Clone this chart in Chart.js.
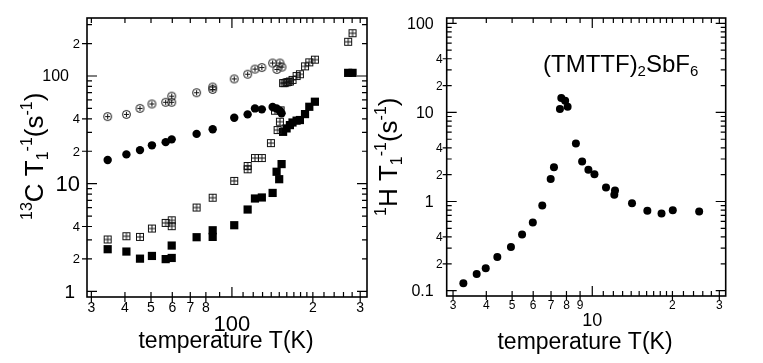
<!DOCTYPE html>
<html>
<head>
<meta charset="utf-8">
<script src="https://cdn.jsdelivr.net/npm/chart.js@4.4.1/dist/chart.umd.min.js"></script>
<style>
  html, body { margin: 0; background: #fff; }
  #wrap { position: relative; width: 763px; height: 363px; }
  #wrap canvas { position: absolute; left: 0; top: 0; }
</style>
</head>
<body>
<div id="wrap">
  <canvas id="left" width="763" height="363"></canvas>
  <canvas id="right" width="763" height="363"></canvas>
</div>
<script>
// 13C panel (temperature in K, 1/T1 in 1/s)
const plusCircleT = [34.5, 40.5, 45.5, 50.4, 56.7, 59.7, 59.7, 73.9, 84.8, 84.8, 102, 114.4, 121.8, 129.2, 141.7, 150.8, 147, 153.5];
const plusCircleR = [42, 44, 50, 55, 57, 57, 65, 70, 79, 75, 94, 104, 116, 120, 132, 132, 115, 121];

const dotT = [34.5, 40.5, 45.5, 50.4, 56.7, 59.7, 73.9, 84.8, 102, 114.4, 121.8, 129.2, 141.7, 146.6, 150.8, 153];
const dotR = [16.6, 18.7, 20.5, 22.7, 24.3, 25.8, 29, 32, 41, 44, 50, 49, 51.5, 50, 47.6, 45];

const gridSqT = [34.5, 40.5, 45.5, 50.4, 56.7, 59.7, 59.7, 73.9, 84.8, 102, 114.4, 114.4, 121.8, 129.2, 139.6, 144.6, 147.9, 150.8, 151.7, 155, 157, 159.7, 162, 164.3, 168, 174, 179, 187, 194, 203.5, 270.6, 281];
const gridSqR = [3.03, 3.25, 3.2, 3.83, 4.32, 4.57, 4.03, 6.0, 7.4, 10.6, 13.6, 14.6, 17.3, 17.3, 23.8, 47.6, 31.5, 37.6, 48, 86, 86, 87.4, 88, 89, 92, 100, 104, 123, 134, 142, 208, 250];

const squareT = [34.5, 40.5, 45.5, 50.4, 56.7, 59.7, 59.7, 73.9, 84.8, 84.8, 102, 114.4, 121.8, 129.2, 141.7, 146.6, 149.9, 153, 155, 159.7, 164.3, 168, 174, 179, 187, 194, 203.5, 270.6, 281];
const squareR = [2.46, 2.34, 2.01, 2.13, 1.99, 2.04, 2.66, 3.18, 3.69, 3.2, 4.11, 5.75, 7.28, 7.44, 8.2, 12.9, 11.0, 15.2, 30.3, 32.6, 35, 37, 38.5, 39, 44.3, 51.8, 57.7, 107, 107];

// 1H panel
const protonT = [3.28, 3.68, 3.98, 4.40, 4.95, 5.45, 5.98, 6.49, 6.98, 7.18, 7.56, 7.65, 7.91, 8.08, 8.68, 9.16, 9.67, 10.19, 11.26, 12.17, 12.1, 14.1, 16.1, 18.2, 20.06, 25.2];
const protonR = [0.121, 0.154, 0.178, 0.238, 0.308, 0.427, 0.582, 0.90, 1.79, 2.43, 10.9, 14.5, 13.5, 11.6, 4.49, 2.81, 2.27, 2.02, 1.44, 1.33, 1.19, 0.955, 0.79, 0.733, 0.797, 0.771];

// tick marks and tick labels
const leftXTicks = [30, 40, 50, 60, 70, 80, 90, 100, 110, 120, 130, 140, 150, 160, 170, 180, 190, 200, 220, 240, 260, 280, 300];
const leftXLabels = [30, 40, 50, 60, 70, 80, 100, 200, 300];
const leftXText = ['3', '4', '5', '6', '7', '8', '100', '2', '3'];
const leftYTicks = [1, 2, 3, 4, 5, 6, 7, 8, 9, 10, 20, 30, 40, 50, 60, 70, 80, 90, 100, 200, 300];
const leftYLabels = [1, 2, 4, 10, 20, 40, 100, 200];
const leftYText = ['1', '2', '4', '10', '2', '4', '100', '2'];

const rightXTicks = [3, 4, 5, 6, 7, 8, 9, 10, 11, 12, 13, 14, 15, 16, 17, 18, 19, 20, 22, 24, 26, 28, 30];
const rightXLabels = [3, 4, 5, 6, 7, 8, 9, 10, 20, 30];
const rightXText = ['3', '4', '5', '6', '7', '8', '9', '10', '2', '3'];
const rightYTicks = [0.1, 0.2, 0.3, 0.4, 0.5, 0.6, 0.7, 0.8, 0.9, 1, 2, 3, 4, 5, 6, 7, 8, 9, 10, 20, 30, 40, 50, 60, 70, 80, 90, 100];
const rightYLabels = [0.1, 0.2, 0.4, 1, 2, 4, 10, 20, 40, 100];
const rightYText = ['0.1', '2', '4', '1', '2', '4', '10', '2', '4', '100'];

const FONT = '"Liberation Sans", Arial, Helvetica, sans-serif';
const isDecade = v => Math.abs(Math.log10(v) - Math.round(Math.log10(v))) < 1e-9;
const pts = (xs, ys) => xs.map((x, i) => ({ x: x, y: ys[i] }));

// marker images
function plusCircle() {
  const c = document.createElement('canvas');
  c.width = 11; c.height = 11;
  const g = c.getContext('2d');
  g.strokeStyle = '#111'; g.lineWidth = 1;
  g.beginPath(); g.arc(5.5, 5.5, 4, 0, Math.PI * 2); g.stroke();
  g.beginPath();
  g.moveTo(5.5, 2.8); g.lineTo(5.5, 8.2);
  g.moveTo(2.8, 5.5); g.lineTo(8.2, 5.5);
  g.stroke();
  return c;
}
function gridSquare() {
  const c = document.createElement('canvas');
  c.width = 10; c.height = 10;
  const g = c.getContext('2d');
  g.strokeStyle = '#111'; g.lineWidth = 1;
  g.strokeRect(1.5, 1.5, 7, 7);
  g.beginPath();
  g.moveTo(5, 1.5); g.lineTo(5, 8.5);
  g.moveTo(1.5, 5); g.lineTo(8.5, 5);
  g.stroke();
  return c;
}

function drawRich(ctx, parts, x, y, rotate) {
  ctx.save();
  ctx.translate(x, y);
  if (rotate) ctx.rotate(-Math.PI / 2);
  ctx.textAlign = 'left';
  ctx.textBaseline = 'alphabetic';
  let cx = 0;
  parts.forEach(p => {
    ctx.font = p.s + 'px ' + FONT;
    ctx.fillText(p.t, cx, p.dy || 0);
    cx += ctx.measureText(p.t).width;
  });
  ctx.restore();
}

// box, inward ticks on all sides, tick labels and titles
const framePlugin = {
  id: 'frame',
  beforeDatasetsDraw(chart, args, o) {
    const { ctx, chartArea: a } = chart;
    const x = chart.scales.x, y = chart.scales.y;
    ctx.save();
    ctx.strokeStyle = '#000';
    ctx.fillStyle = '#000';
    ctx.lineWidth = 1.6;
    ctx.strokeRect(a.left, a.top, a.right - a.left, a.bottom - a.top);

    ctx.lineWidth = 1.2;
    ctx.beginPath();
    o.xTicks.forEach(v => {
      const px = x.getPixelForValue(v);
      const len = isDecade(v) ? 10 : 5;
      ctx.moveTo(px, a.bottom); ctx.lineTo(px, a.bottom - len);
      ctx.moveTo(px, a.top); ctx.lineTo(px, a.top + len);
    });
    o.yTicks.forEach(v => {
      const py = y.getPixelForValue(v);
      const len = isDecade(v) ? 10 : 5;
      ctx.moveTo(a.left, py); ctx.lineTo(a.left + len, py);
      ctx.moveTo(a.right, py); ctx.lineTo(a.right - len, py);
    });
    // outward stubs at labelled minor ticks
    o.xLabels.forEach(v => {
      if (isDecade(v)) return;
      const px = x.getPixelForValue(v);
      ctx.moveTo(px, a.bottom); ctx.lineTo(px, a.bottom + o.stub);
    });
    o.yLabels.forEach(v => {
      if (isDecade(v)) return;
      const py = y.getPixelForValue(v);
      ctx.moveTo(a.left, py); ctx.lineTo(a.left - o.stub, py);
    });
    ctx.stroke();

    ctx.textBaseline = 'middle';
    ctx.textAlign = 'center';
    o.xLabels.forEach((v, i) => {
      const major = isDecade(v);
      ctx.font = (major ? o.xMajorSize : o.xMinorSize) + 'px ' + FONT;
      ctx.fillText(o.xText[i], x.getPixelForValue(v), a.bottom + (major ? o.xMajorDy : o.xMinorDy));
    });
    ctx.textAlign = 'right';
    o.yLabels.forEach((v, i) => {
      const major = isDecade(v);
      ctx.font = (major ? o.yMajorSize(v) : o.yMinorSize) + 'px ' + FONT;
      ctx.fillText(o.yText[i], a.left - (major ? o.yMajorGap(v) : o.yMinorGap), y.getPixelForValue(v) + 1);
    });

    ctx.textAlign = 'center';
    ctx.textBaseline = 'alphabetic';
    ctx.font = o.xTitleSize + 'px ' + FONT;
    ctx.fillText('temperature T(K)', o.xTitleX, o.xTitleY);

    drawRich(ctx, o.yTitle, o.yTitleX, o.yTitleY, true);
    if (o.note) drawRich(ctx, o.note, o.noteX, o.noteY, false);
    ctx.restore();
  }
};

function logScale(min, max) {
  return { type: 'logarithmic', display: false, min: min, max: max };
}

const sup = t => ({ t: t, s: 16, dy: -11 });
const sub = t => ({ t: t, s: 16, dy: 5 });
const big = t => ({ t: t, s: 26 });

new Chart(document.getElementById('left'), {
  type: 'scatter',
  data: {
    datasets: [
      { data: pts(plusCircleT, plusCircleR), pointStyle: plusCircle(), pointRadius: 4 },
      { data: pts(dotT, dotR), pointStyle: 'circle', pointRadius: 4.2, backgroundColor: '#000', borderWidth: 0 },
      { data: pts(gridSqT, gridSqR), pointStyle: gridSquare(), pointRadius: 4 },
      { data: pts(squareT, squareR), pointStyle: 'rect', pointRadius: 5.8, backgroundColor: '#000', borderWidth: 0 }
    ]
  },
  options: {
    responsive: false,
    animation: false,
    layout: { padding: { left: 87, right: 396, top: 18, bottom: 66 } },
    scales: { x: logScale(28.9, 318), y: logScale(0.885, 346) },
    plugins: {
      legend: { display: false },
      tooltip: { enabled: false },
      frame: {
        xTicks: leftXTicks, xLabels: leftXLabels, xText: leftXText,
        yTicks: leftYTicks, yLabels: leftYLabels, yText: leftYText,
        stub: 5,
        xMinorSize: 14, xMinorDy: 11, xMajorSize: 22, xMajorDy: 28,
        yMinorSize: 13, yMinorGap: 7,
        yMajorSize: v => (v === 10 ? 22 : v === 1 ? 19 : 16),
        yMajorGap: v => (v === 10 ? 7 : v === 1 ? 12 : 18),
        xTitleSize: 23, xTitleX: 226, xTitleY: 348,
        yTitle: [sup('13'), big('C'), big(' T'), sub('1'), sup('-1'), big('('), big('s'), sup('-1'), big(')')],
        yTitleX: 43, yTitleY: 220
      }
    }
  },
  plugins: [framePlugin]
});

new Chart(document.getElementById('right'), {
  type: 'scatter',
  data: {
    datasets: [
      { data: pts(protonT, protonR), pointStyle: 'circle', pointRadius: 4, backgroundColor: '#000', borderWidth: 0 }
    ]
  },
  options: {
    responsive: false,
    animation: false,
    layout: { padding: { left: 446.7, right: 37.3, top: 18, bottom: 67 } },
    scales: { x: logScale(2.84, 31.7), y: logScale(0.087, 114.7) },
    plugins: {
      legend: { display: false },
      tooltip: { enabled: false },
      frame: {
        xTicks: rightXTicks, xLabels: rightXLabels, xText: rightXText,
        yTicks: rightYTicks, yLabels: rightYLabels, yText: rightYText,
        stub: 4,
        xMinorSize: 12, xMinorDy: 10, xMajorSize: 18, xMajorDy: 25,
        yMinorSize: 12, yMinorGap: 4,
        yMajorSize: v => 16,
        yMajorGap: v => 13,
        xTitleSize: 23, xTitleX: 585, xTitleY: 349,
        yTitle: [sup('1'), big('H'), big(' T'), sub('1'), sup('-1'), big('('), big('s'), sup('-1'), big(')')],
        yTitleX: 397, yTitleY: 216,
        note: [{ t: '(TMTTF)', s: 24 }, { t: '2', s: 15, dy: 4 }, { t: 'SbF', s: 24 }, { t: '6', s: 15, dy: 4 }],
        noteX: 543, noteY: 72
      }
    }
  },
  plugins: [framePlugin]
});
</script>
</body>
</html>
